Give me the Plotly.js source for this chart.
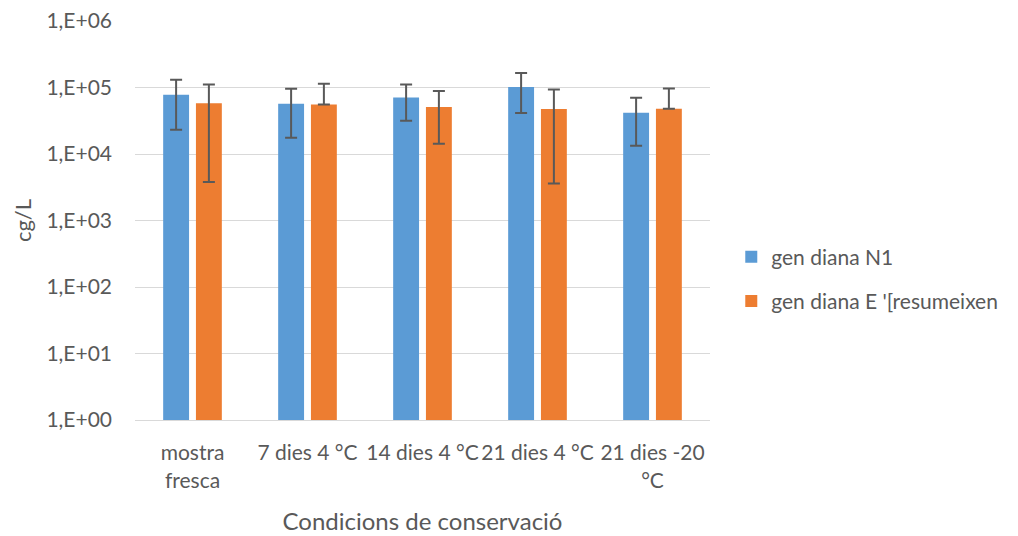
<!DOCTYPE html>
<html><head><meta charset="utf-8">
<script src="https://cdn.plot.ly/plotly-3.0.1.min.js"></script>
<style>html,body{margin:0;padding:0;background:#fff}#chart{width:1018px;height:536px}</style>
</head><body><div id="chart"></div>
<script>
const categories = ["mostra<br>fresca", "7 dies 4 °C", "14 dies 4 °C", "21 dies 4 °C", "21 dies -20<br>°C"];
const seriesNames = ["gen diana N1", "gen diana E '[resumeixen"];
const n1Values = [77600, 56900, 70700, 101400, 41700];
const n1ErrPlus = [53000, 38700, 40300, 63300, 28300];
const n1ErrMinus = [54500, 39400, 39100, 60200, 28400];
const eValues = [58200, 55400, 50700, 47300, 47900];
const eErrPlus = [52800, 58200, 37600, 46000, 48700];
const eErrMinus = [54400, 0, 36500, 43700, 0];
const yTickVals = [1, 10, 100, 1000, 10000, 100000, 1000000];
const yTickText = ["1,E+00", "1,E+01", "1,E+02", "1,E+03", "1,E+04", "1,E+05", "1,E+06"];

const errStyle = {type: 'data', symmetric: false, color: '#595959', thickness: 2, width: 6};
const traces = [
  {type: 'bar', name: seriesNames[0], x: categories, y: n1Values, legendgroup: 'a',
   marker: {color: '#5B9BD5'},
   error_y: Object.assign({}, errStyle, {array: n1ErrPlus, arrayminus: n1ErrMinus})},
  {type: 'bar', name: seriesNames[1], x: categories, y: eValues, legendgroup: 'b',
   marker: {color: '#ED7D31'},
   error_y: Object.assign({}, errStyle, {array: eErrPlus, arrayminus: eErrMinus})}
];
const fam = 'Lato, "Open Sans", sans-serif';
const txt = '#595959';
const layout = {
  width: 1018, height: 536,
  margin: {l: 135, r: 308, t: 21, b: 116},
  paper_bgcolor: '#fff', plot_bgcolor: '#fff',
  font: {family: fam, color: txt, size: 20},
  barmode: 'group', bargap: 0.43, bargroupgap: 0.21,
  showlegend: true,
  legend: {x: 1.037, xanchor: 'left', y: 0.353, yanchor: 'middle', font: {size: 21, color: txt, family: fam},
           tracegroupgap: 14, traceorder: 'grouped', itemwidth: 30},
  xaxis: {type: 'category', showgrid: false, showline: true, linecolor: '#D9D9D9', linewidth: 1,
          ticks: '', tickfont: {size: 21, color: txt, family: fam}, ticklabelstandoff: 14,
          title: {text: 'Condicions de conservació', font: {size: 24, color: txt, family: fam}, standoff: 22}},
  yaxis: {type: 'log', range: [0, 6], tickvals: yTickVals, ticktext: yTickText,
          showgrid: true, gridcolor: '#D9D9D9', gridwidth: 1, zeroline: false, showline: false,
          ticks: '', tickfont: {size: 21, color: txt, family: fam}, ticklabelstandoff: 22,
          title: {text: 'cg/L', font: {size: 22, color: txt, family: fam}, standoff: 8}}
};
Plotly.newPlot('chart', traces, layout, {displayModeBar: false, staticPlot: true});
</script></body></html>
